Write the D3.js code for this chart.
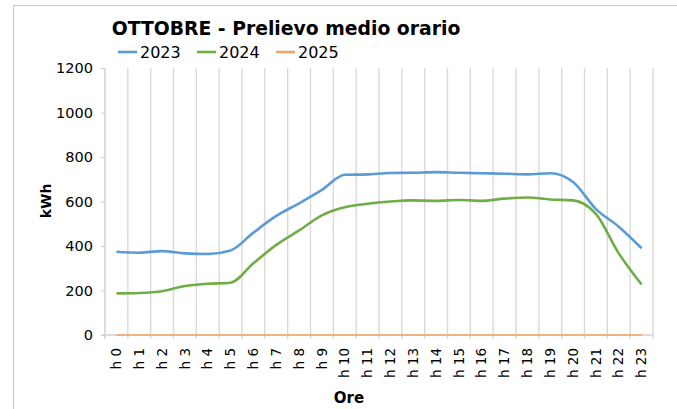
<!DOCTYPE html>
<html>
<head>
<meta charset="utf-8">
<script src="https://cdn.jsdelivr.net/npm/d3@7"></script>
<style>
  body { margin: 0; background: #fff; }
  text { font-family: "DejaVu Sans", Verdana, sans-serif; fill: #000; }
</style>
</head>
<body>
<svg width="677" height="409"></svg>
<script>
// hours on the x axis
var hours = d3.range(24).map(function(i) { return "h " + i; });
// kWh
var v2023 = [374, 370, 377, 367, 364, 380, 460, 535, 592, 652, 720, 722, 728, 729, 732, 729, 727, 725, 722, 727, 688, 566, 487, 390];
var v2024 = [187, 189, 197, 220, 230, 235, 322, 405, 470, 538, 574, 590, 600, 605, 603, 607, 603, 613, 618, 609, 605, 544, 367, 227];
var v2025 = [0, 0, 0, 0, 0, 0, 0, 0, 0, 0, 0, 0, 0, 0, 0, 0, 0, 0, 0, 0, 0, 0, 0, 0];
var yTicks = [0, 200, 400, 600, 800, 1000, 1200];

var series = [
  {name: "2023", values: v2023, color: "#5b9bd5", w: 2.6},
  {name: "2024", values: v2024, color: "#70ad47", w: 2.6},
  {name: "2025", values: v2025, color: "#f4a46a", w: 1.3}
];

var svg = d3.select("svg");
var margin = {top: 68, left: 105, right: 24, bottom: 74};
var width = 677 - margin.left - margin.right,
    height = 409 - margin.top - margin.bottom;

// outer frame
svg.append("rect")
  .attr("x", 13.5).attr("y", 5.5)
  .attr("width", 700).attr("height", 440)
  .attr("fill", "none").attr("stroke", "#c9c9c9");

var g = svg.append("g").attr("transform", "translate(" + margin.left + "," + margin.top + ")");

var x = d3.scaleBand().domain(hours).range([0, width]);
var y = d3.scaleLinear().domain([0, 1200]).range([height, 0]);

// vertical grid lines on the band edges
var edges = d3.range(25).map(function(i) { return i * x.step(); });
g.selectAll(".vgrid").data(edges).enter().append("line")
  .attr("class", "vgrid")
  .attr("x1", function(d) { return d; }).attr("x2", function(d) { return d; })
  .attr("y1", 0).attr("y2", height + 4)
  .attr("stroke", function(d, i) { return i == 0 ? "#cfcfcf" : "#d9d9d9"; })
  .attr("stroke-width", 1.4);

// y axis
var axisY = g.append("g").call(d3.axisLeft(y).tickValues(yTicks).tickFormat(d3.format("d")).tickSize(4).tickPadding(8));
axisY.select(".domain").remove();
axisY.selectAll("line").attr("stroke", "#cfcfcf");
axisY.selectAll("text").style("font-size", "14.5px").attr("fill", "#000");

// zero line
g.append("line")
  .attr("x1", -4).attr("x2", width)
  .attr("y1", y(0)).attr("y2", y(0))
  .attr("stroke", "#d0d0d0").attr("stroke-width", 1.4);

// x axis labels
var axisX = g.append("g").attr("transform", "translate(0," + height + ")")
  .call(d3.axisBottom(x).tickSize(0).tickPadding(0));
axisX.select(".domain").remove();
axisX.selectAll("text")
  .style("font-size", "13.5px")
  .attr("fill", "#000")
  .attr("text-anchor", "end")
  .attr("dy", "0.35em")
  .attr("transform", "translate(0,13) rotate(-90)");

// lines
var line = d3.line()
  .curve(d3.curveMonotoneX)
  .x(function(d, i) { return x(hours[i]) + x.bandwidth() / 2; })
  .y(function(d) { return y(d); });

g.selectAll(".series").data(series).enter().append("path")
  .attr("class", "series")
  .attr("fill", "none")
  .attr("stroke", function(d) { return d.color; })
  .attr("stroke-width", function(d) { return d.w; })
  .attr("stroke-linejoin", "round")
  .attr("d", function(d) { return line(d.values); });

// title
svg.append("text")
  .attr("x", 286).attr("y", 35)
  .attr("text-anchor", "middle")
  .style("font-size", "18.8px").style("font-weight", "bold")
  .text("OTTOBRE - Prelievo medio orario");

// legend
var legendX = [118, 197, 276];
var leg = svg.selectAll(".leg").data(series).enter().append("g")
  .attr("class", "leg")
  .attr("transform", function(d, i) { return "translate(" + legendX[i] + ",52)"; });
leg.append("line")
  .attr("x1", 0).attr("x2", 19).attr("y1", 0).attr("y2", 0)
  .attr("stroke", function(d) { return d.color; })
  .attr("stroke-width", 2.6);
leg.append("text")
  .attr("x", 22).attr("y", 0).attr("dy", "0.35em")
  .style("font-size", "16px")
  .text(function(d) { return d.name; });

// axis titles
svg.append("text")
  .attr("transform", "translate(51,201) rotate(-90)")
  .attr("text-anchor", "middle")
  .style("font-size", "14px").style("font-weight", "bold")
  .text("kWh");
svg.append("text")
  .attr("x", 349).attr("y", 403)
  .attr("text-anchor", "middle")
  .style("font-size", "15px").style("font-weight", "bold")
  .text("Ore");
</script>
</body>
</html>
